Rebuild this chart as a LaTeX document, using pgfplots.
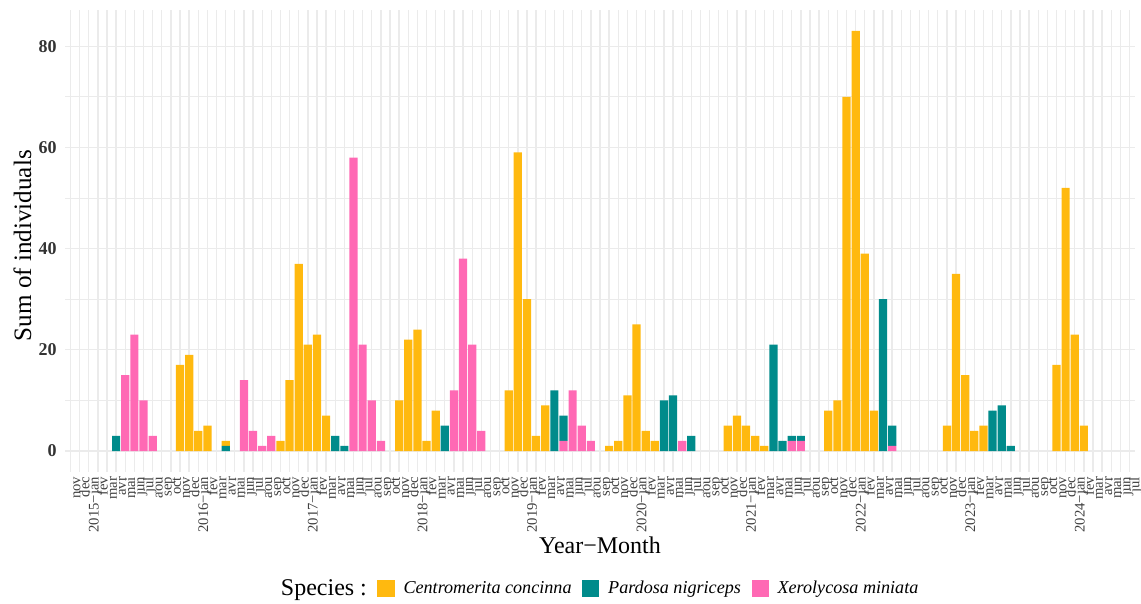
\documentclass[border=0pt]{standalone}
\usepackage{fontspec}
\setmainfont{Liberation Serif}
\usepackage{pgfplots}
\usepackage{pgfplotstable}
\pgfplotsset{compat=1.18}
\definecolor{corange}{HTML}{FFB90F}
\definecolor{cteal}{HTML}{008B8B}
\definecolor{cpink}{HTML}{FF69B4}
\definecolor{gridc}{HTML}{EBEBEB}
% k = month index (0 = 2014-nov ... 116 = 2024-jul); X = Xerolycosa, P = Pardosa, C = Centromerita
\pgfplotstableread{
k X P C
0 0 0 0
1 0 0 0
2 0 0 0
3 0 0 0
4 0 0 0
5 0 3 0
6 15 0 0
7 23 0 0
8 10 0 0
9 3 0 0
10 0 0 0
11 0 0 0
12 0 0 17
13 0 0 19
14 0 0 4
15 0 0 5
16 0 0 0
17 0 1 1
18 0 0 0
19 14 0 0
20 4 0 0
21 1 0 0
22 3 0 0
23 0 0 2
24 0 0 14
25 0 0 37
26 0 0 21
27 0 0 23
28 0 0 7
29 0 3 0
30 0 1 0
31 58 0 0
32 21 0 0
33 10 0 0
34 2 0 0
35 0 0 0
36 0 0 10
37 0 0 22
38 0 0 24
39 0 0 2
40 0 0 8
41 0 5 0
42 12 0 0
43 38 0 0
44 21 0 0
45 4 0 0
46 0 0 0
47 0 0 0
48 0 0 12
49 0 0 59
50 0 0 30
51 0 0 3
52 0 0 9
53 0 12 0
54 2 5 0
55 12 0 0
56 5 0 0
57 2 0 0
58 0 0 0
59 0 0 1
60 0 0 2
61 0 0 11
62 0 0 25
63 0 0 4
64 0 0 2
65 0 10 0
66 0 11 0
67 2 0 0
68 0 3 0
69 0 0 0
70 0 0 0
71 0 0 0
72 0 0 5
73 0 0 7
74 0 0 5
75 0 0 3
76 0 0 1
77 0 21 0
78 0 2 0
79 2 1 0
80 2 1 0
81 0 0 0
82 0 0 0
83 0 0 8
84 0 0 10
85 0 0 70
86 0 0 83
87 0 0 39
88 0 0 8
89 0 30 0
90 1 4 0
91 0 0 0
92 0 0 0
93 0 0 0
94 0 0 0
95 0 0 0
96 0 0 5
97 0 0 35
98 0 0 15
99 0 0 4
100 0 0 5
101 0 8 0
102 0 9 0
103 0 1 0
104 0 0 0
105 0 0 0
106 0 0 0
107 0 0 0
108 0 0 17
109 0 0 52
110 0 0 23
111 0 0 5
112 0 0 0
113 0 0 0
114 0 0 0
115 0 0 0
116 0 0 0
}\spiders
\pgfplotsset{sq/.style={legend image code/.code={\fill[##1] (0pt,-6.4pt) rectangle (12.8pt,6.4pt);}}}
\begin{document}
\begin{tikzpicture}
\useasboundingbox (0,0) rectangle (855.75pt,452.25pt);
\begin{axis}[
  at={(48.75pt,98.25pt)}, anchor=south west,
  scale only axis, width=802.5pt, height=346.5pt,
  xmin=-0.6, xmax=116.6, ymin=-4.15, ymax=87.15,
  ybar stacked, bar width=0.9,
  axis line style={draw=none}, tick style={draw=none},
  major tick length=0pt, minor tick length=0pt,
  xtick={0,...,116},
  xticklabels={nov,dec,
    2015−jan,fev,mar,avr,mai,jun,jul,aou,sep,oct,nov,dec,
    2016−jan,fev,mar,avr,mai,jun,jul,aou,sep,oct,nov,dec,
    2017−jan,fev,mar,avr,mai,jun,jul,aou,sep,oct,nov,dec,
    2018−jan,fev,mar,avr,mai,jun,jul,aou,sep,oct,nov,dec,
    2019−jan,fev,mar,avr,mai,jun,jul,aou,sep,oct,nov,dec,
    2020−jan,fev,mar,avr,mai,jun,jul,aou,sep,oct,nov,dec,
    2021−jan,fev,mar,avr,mai,jun,jul,aou,sep,oct,nov,dec,
    2022−jan,fev,mar,avr,mai,jun,jul,aou,sep,oct,nov,dec,
    2023−jan,fev,mar,avr,mai,jun,jul,aou,sep,oct,nov,dec,
    2024−jan,fev,mar,avr,mai,jun,jul},
  ytick={0,20,40,60,80},
  minor ytick={10,30,50,70},
  xmajorgrids, ymajorgrids, yminorgrids,
  major grid style={draw=gridc, line width=1pt},
  minor grid style={draw=gridc, line width=0.6pt},
  /pgf/number format/assume math mode=true,
  xticklabel style={font=\fontsize{11}{11}\selectfont, text=black!75, rotate=90, anchor=north east,
    inner xsep=3.5pt, inner ysep=0pt, text height=7.2pt, text depth=0pt},
  yticklabel style={font=\fontsize{13.5}{13.5}\selectfont\bfseries, text=black!80, anchor=east, inner sep=0pt, xshift=-6pt},
  xlabel={Year−Month},
  ylabel={Sum of individuals},
  xlabel style={font=\fontsize{18}{18}\selectfont, at={(axis description cs:0.5,-0.158)}, anchor=center},
  ylabel style={font=\fontsize{18.8}{18.8}\selectfont, at={(axis description cs:-0.0397,0.49)}, anchor=center, rotate=0},
  reverse legend,
  legend columns=4,
  legend style={at={(axis description cs:0.4955,-0.252)}, anchor=center, draw=none, fill=none,
    nodes={inner xsep=0pt, inner ysep=1pt},
    /tikz/every odd column/.append style={column sep=6.75pt},
    /tikz/every even column/.append style={column sep=7.9pt}},
]
\addplot[fill=cpink, draw=none, sq] table[x=k, y=X]{\spiders};
\addlegendentry{\fontsize{13.6}{15}\selectfont\textit{Xerolycosa miniata}}
\addplot[fill=cteal, draw=none, sq] table[x=k, y=P]{\spiders};
\addlegendentry{\fontsize{13.6}{15}\selectfont\textit{Pardosa nigriceps}}
\addplot[fill=corange, draw=none, sq] table[x=k, y=C]{\spiders};
\addlegendentry{\fontsize{13.6}{15}\selectfont\textit{Centromerita concinna}}
\addlegendimage{empty legend}
\addlegendentry{\fontsize{18}{20}\selectfont Species :\hspace{3.3pt}}
\end{axis}
\end{tikzpicture}
\end{document}
